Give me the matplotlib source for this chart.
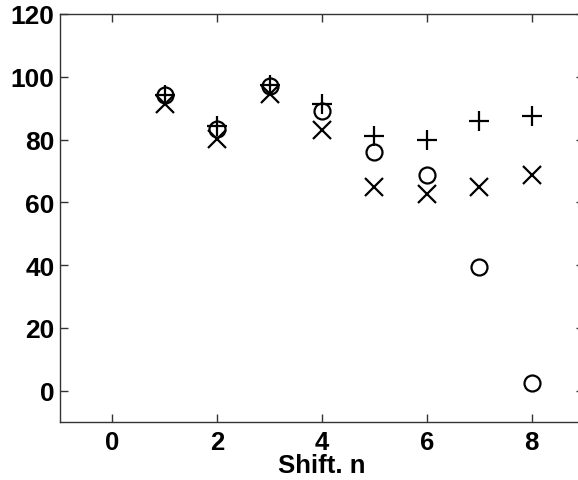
import matplotlib
matplotlib.use("Agg")
import matplotlib.pyplot as plt

# Shift index and the three measured series
shift = [1, 2, 3, 4, 5, 6, 7, 8]
plus_vals = [94.3, 84.3, 97.5, 91.4, 81.0, 79.8, 85.8, 87.4]
circle_vals = [94.1, 83.4, 97.0, 89.0, 76.0, 68.6, 39.4, 2.5]
cross_vals = [91.4, 80.3, 94.6, 82.9, 64.9, 62.7, 64.9, 68.6]

x_ticks = [0, 2, 4, 6, 8]
y_ticks = [0, 20, 40, 60, 80, 100, 120]

plt.rcParams['font.family'] = ['Liberation Sans', 'DejaVu Sans']
plt.rcParams['font.weight'] = 'bold'

fig = plt.figure(figsize=(5.78, 4.81), dpi=100)
ax = fig.add_axes([60 / 578, 58 / 481, 524 / 578, 408 / 481])

ax.plot(shift, plus_vals, linestyle='none', marker='+', markersize=14,
        markeredgewidth=1.6, color='black', clip_on=False)
ax.plot(shift, circle_vals, linestyle='none', marker='o', markersize=11.5,
        markeredgewidth=1.6, markerfacecolor='none', markeredgecolor='black',
        clip_on=False)
ax.plot(shift, cross_vals, linestyle='none', marker='x', markersize=13,
        markeredgewidth=1.6, color='black', clip_on=False)

ax.set_xlim(-1, 9)
ax.set_ylim(-10, 120)
ax.set_xticks(x_ticks)
ax.set_yticks(y_ticks)
ax.tick_params(direction='in', length=6, width=1, top=True, right=True,
               labelsize=19, color='#333333')
ax.tick_params(axis='x', pad=6, labelsize=18.5)
ax.tick_params(axis='y', pad=4)
for lab in ax.get_xticklabels() + ax.get_yticklabels():
    lab.set_fontweight('bold')
for sp in ax.spines.values():
    sp.set_linewidth(1.0)
    sp.set_color('#333333')

ax.set_xlabel('Shift. n', fontsize=18.5, fontweight='bold', labelpad=-1)

fig.savefig('out.png', dpi=100)
